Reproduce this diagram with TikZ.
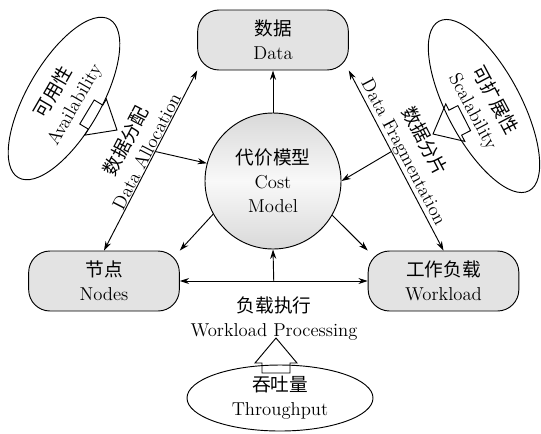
\documentclass[tikz,border=0pt]{standalone}
\usepackage{fontspec}
\newfontfamily\cjk{Noto Sans CJK SC}
\newcommand{\zh}[1]{{\cjk #1}}
\usetikzlibrary{shapes.geometric,arrows.meta}

\tikzset{
  box/.style={draw, fill=gray!22, rounded corners=16pt, minimum width=113pt,
    minimum height=45pt, align=center, inner sep=2pt},
  bubble/.style={draw, ellipse, align=center, inner sep=0pt},
  linklabel/.style={above, sloped, align=center, inner sep=0.5pt,
    font=\fontsize{14pt}{17pt}\selectfont},
}

% hollow block arrow, tip at #1, pointing along angle #2
\newcommand{\fatarrow}[2]{%
  \draw[shift={#1}, rotate=#2] (0,0) -- (-25,21) -- (-25,14) -- (-35,14)
    -- (-35,-14) -- (-25,-14) -- (-25,-21) -- cycle;}

\begin{document}
\begin{tikzpicture}[x=0.75pt, y=-0.75pt, font=\fontsize{14pt}{18pt}\selectfont,
    line width=0.7pt, >={Stealth[length=7pt,width=4.5pt]}]
  \useasboundingbox (0,0) rectangle (541,433);
  % the three blocks and the cost model
  \node[box] (data) at (273,40) {\zh{数据}\\Data};
  \node[box] (nodes) at (104,281) {\zh{节点}\\Nodes};
  \node[box] (load) at (443.5,281) {\zh{工作负载}\\Workload};
  \node[circle, draw, minimum size=102pt, inner sep=0pt, align=center,
    top color=gray!30, bottom color=gray!30, middle color=gray!5] (cost) at (273,181)
    {\zh{代价模型}\\Cost\\Model};
  % goals
  \node[bubble, rotate=60, minimum width=137pt, minimum height=55.5pt] (avail) at (64,98.5)
    {\zh{可用性}\\Availability};
  \node[bubble, rotate=-62, minimum width=144pt, minimum height=55.5pt] (scal) at (484,106)
    {\zh{可扩展性}\\Scalability};
  \node[bubble, minimum width=139.5pt, minimum height=49.5pt] (thru) at (280,398)
    {\zh{吞吐量}\\Throughput};
  % links
  \draw[<->] (nodes.north) -- coordinate[pos=0.55] (alloc)
    node[linklabel, pos=0.53] (alloctext) {\zh{数据分配}\\Data Allocation}
    (data.south west);
  \draw[<->] (data.south east) -- coordinate[pos=0.45] (frag)
    node[linklabel, pos=0.48] (fragtext) {\zh{数据分片}\\Data Fragmentation}
    (load.north);
  \draw[->] (alloc) -- (cost.165);
  \draw[->] (frag) -- (cost.east);
  \draw[->] (cost.north) -- (data.south);
  \draw[->] (cost.209) -- (nodes.north east);
  \draw[->] (cost.330) -- (load.north west);
  \draw[<->] (nodes.east) -- coordinate (mid) (load.west);
  \draw[->] (mid) -- (cost.south);
  \node[align=center] (proc) at (274,319) {\zh{负载执行}\\Workload Processing};
  % block arrows from the goals
  \fatarrow{(276,338)}{90}
  \fatarrow{(117,130)}{-31}
  \fatarrow{(433,134)}{207}
\end{tikzpicture}
\end{document}
